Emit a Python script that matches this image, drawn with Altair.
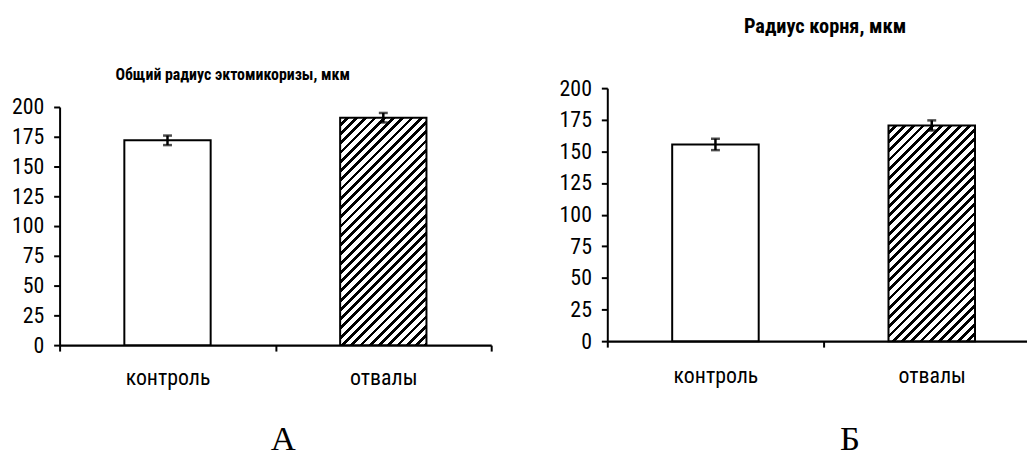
import math
import altair as alt
import pandas as pd

# ---------------- data ----------------
categories = ["контроль", "отвалы"]
total_radius = [172, 191]          # Общий радиус эктомикоризы, мкм
total_radius_err = [4, 4]
root_radius = [155.5, 170.5]       # Радиус корня, мкм
root_radius_err = [4.5, 4]
panel_titles = ["Общий радиус эктомикоризы, мкм", "Радиус корня, мкм"]
panel_letters = ["А", "Б"]
y_ticks = [0, 25, 50, 75, 100, 125, 150, 175, 200]
y_domain = [0, 200]

SANS = "Liberation Sans Narrow, Arial Narrow, Roboto Condensed, DejaVu Sans Condensed, Liberation Sans, sans-serif"
SERIF = "Liberation Serif, Times New Roman, serif"

# ---------------- layout (view coords; view origin = page (60, 8)) ----------------
W, H = 975, 450
BAR_FRAC = 0.4


def hatch(w, h, period=6.6, dark=0.42):
    """Diagonal '/' hatching as a hard-stop linear gradient in bbox units."""
    L = (w + h) / math.sqrt(2)
    s = (w + h) / (w * w + h * h)
    stops = []
    k = 0
    while True:
        t0 = k * period / L
        t1 = (k + 1 - dark) * period / L
        t2 = (k + 1) * period / L
        for off, col in [(t0, "white"), (t1, "white"), (t1, "black"), (t2, "black")]:
            stops.append({"offset": min(off, 1.0), "color": col})
        if t2 >= 1:
            break
        k += 1
    return {"gradient": "linear", "x1": 0, "y1": 0, "x2": s * w, "y2": s * h, "stops": stops}


def panel(values, errs, title, letter, xr, yr, y_offset, title_xy, letter_xy,
          title_size, label_pad_x):
    df = pd.DataFrame({"cat": categories, "val": values, "err": errs})
    band = (xr[1] - xr[0]) / len(categories)
    px_per_unit = (yr[0] - yr[1]) / (y_domain[1] - y_domain[0])

    xscale = alt.Scale(domain=categories, range=xr, paddingInner=0, paddingOuter=0)
    yscale = alt.Scale(domain=y_domain, range=yr, nice=False, zero=True)

    xaxis = alt.Axis(
        orient="bottom", offset=-(H - yr[0]), tickBand="extent",
        domainColor="black", domainWidth=2.3, tickColor="black", tickWidth=2,
        tickSize=6, labelFont=SANS, labelFontSize=22, labelColor="black",
        labelAngle=0, labelPadding=label_pad_x, labelBaseline="alphabetic",
        grid=False, title=letter, titleFont=SERIF, titleFontSize=35,
        titleFontWeight="normal", titleColor="black", titleX=letter_xy[0],
        titleY=letter_xy[1], titleAlign="center", titleBaseline="alphabetic",
    )
    yaxis = alt.Axis(
        orient="left", offset=y_offset, values=y_ticks, domainColor="black",
        domainWidth=2, tickColor="black", tickWidth=2, tickSize=6,
        labelFont=SANS, labelFontSize=22, labelColor="black", labelPadding=10,
        grid=False, title=title, titleFont=SANS, titleFontSize=title_size,
        titleFontWeight="bold", titleColor="black", titleAngle=0,
        titleX=title_xy[0], titleY=title_xy[1], titleAlign="center",
        titleBaseline="middle",
    )

    base = alt.Chart(df).transform_calculate(
        lo="datum.val - datum.err", hi="datum.val + datum.err"
    )
    x = alt.X("cat:N", sort=categories, scale=xscale, axis=xaxis)

    plain = base.transform_filter(alt.datum.cat == categories[0]).mark_bar(
        fill="white", stroke="black", strokeWidth=2,
        width=alt.RelativeBandSize(BAR_FRAC),
    ).encode(x=x, y=alt.Y("val:Q", scale=yscale, axis=yaxis))

    hv = values[1]
    grad = hatch(band * BAR_FRAC, hv * px_per_unit)
    hatched = base.transform_filter(alt.datum.cat == categories[1]).mark_bar(
        fill=grad, stroke="black", strokeWidth=2,
        width=alt.RelativeBandSize(BAR_FRAC),
    ).encode(x=x, y=alt.Y("val:Q", scale=yscale, axis=yaxis))

    err_rule = base.mark_rule(color="black", strokeWidth=2.5).encode(
        x=x, y=alt.Y("lo:Q", scale=yscale, axis=yaxis), y2="hi:Q"
    )
    cap_lo = base.mark_tick(color="black", thickness=2.5, size=9, orient="horizontal").encode(
        x=x, y=alt.Y("lo:Q", scale=yscale, axis=yaxis)
    )
    cap_hi = base.mark_tick(color="black", thickness=2.5, size=9, orient="horizontal").encode(
        x=x, y=alt.Y("hi:Q", scale=yscale, axis=yaxis)
    )
    return alt.layer(plain, hatched, err_rule, cap_lo, cap_hi)


left = panel(
    total_radius, total_radius_err, panel_titles[0], panel_letters[0],
    xr=[0, 435], yr=[338, 98], y_offset=0,
    title_xy=(174, 65), letter_xy=(225, 105), title_size=16, label_pad_x=34,
)
right = panel(
    root_radius, root_radius_err, panel_titles[1], panel_letters[1],
    xr=[552, 988], yr=[334, 79], y_offset=-552,
    title_xy=(219, 17), letter_xy=(796, 109), title_size=20.5, label_pad_x=36,
)

chart = alt.layer(left, right).resolve_scale(
    x="independent", y="independent"
).properties(
    width=W, height=H,
    autosize=alt.AutoSizeParams(type="none"),
    padding={"left": 52, "top": 0, "right": 0, "bottom": 0},
).configure_view(stroke=None)

chart.save("out.html", embed_options={"renderer": "svg", "actions": False})
